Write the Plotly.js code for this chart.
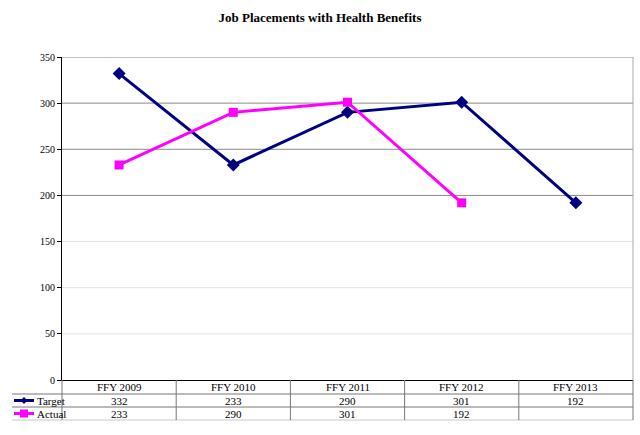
<!DOCTYPE html>
<html>
<head>
<meta charset="utf-8">
<script src="https://cdn.plot.ly/plotly-3.0.1.min.js"></script>
<style>
  body { margin: 0; background: #fff; }
  #chart { width: 640px; height: 435px; }
</style>
</head>
<body>
<div id="chart"></div>
<script>
// Data
const years = ["FFY 2009", "FFY 2010", "FFY 2011", "FFY 2012", "FFY 2013"];
const target = [332, 233, 290, 301, 192];
const actual = [233, 290, 301, 192, null];
const yTicks = [0, 50, 100, 150, 200, 250, 300, 350];

// plot area in pixels (used to place the data table below the axis)
const W = 640, H = 435;
const L = 62, R = 633, T = 57, B = 380;
const px = x => (x - L) / (R - L);
const py = y => (B - y) / (B - T);

const navy = '#000080';
const pink = '#FF00FF';
const serif = 'Liberation Serif';

function createChart() {
    const xs = years.map((_, i) => i);

    const traceTarget = {
        x: xs,
        y: target,
        name: 'Target',
        type: 'scatter',
        mode: 'lines+markers',
        line: { color: navy, width: 3 },
        marker: { symbol: 'diamond', size: 10, color: navy },
        cliponaxis: false
    };

    const traceActual = {
        x: xs,
        y: actual,
        name: 'Actual',
        type: 'scatter',
        mode: 'lines+markers',
        line: { color: pink, width: 3 },
        marker: { symbol: 'square', size: 9, color: pink },
        cliponaxis: false
    };

    const shapes = [];
    const annotations = [];

    // gridlines: upper ones darker, lower ones light
    yTicks.slice(1).forEach(v => {
        shapes.push({
            type: 'line', xref: 'paper', yref: 'y', x0: 0, x1: 1, y0: v, y1: v,
            line: { color: v >= 200 ? '#8a8a8a' : '#e2e2e2', width: 1 },
            layer: 'below'
        });
    });

    // right border of plot area
    shapes.push({ type: 'line', xref: 'paper', yref: 'paper', x0: 1, x1: 1, y0: 0, y1: 1,
        line: { color: '#aaaaaa', width: 1 } });

    // data table rows
    const rowY = [380, 394, 407, 420];
    const rowMid = [387, 400.5, 413.5];
    for (let r = 1; r < rowY.length; r++) {
        shapes.push({ type: 'line', xref: 'paper', yref: 'paper',
            x0: px(12), x1: 1, y0: py(rowY[r]), y1: py(rowY[r]),
            line: { color: r === 3 ? '#c8c8c8' : '#777777', width: 1 } });
    }
    // vertical separators
    for (let c = 0; c <= years.length; c++) {
        const xv = L + c * (R - L) / years.length;
        shapes.push({ type: 'line', xref: 'paper', yref: 'paper',
            x0: px(xv), x1: px(xv), y0: py(380), y1: py(420),
            line: { color: '#777777', width: 1 } });
    }

    const cellFont = { family: serif, size: 11, color: '#000' };
    years.forEach((yr, i) => {
        annotations.push({ x: i, y: py(rowMid[0]), xref: 'x', yref: 'paper', text: yr,
            showarrow: false, font: cellFont, yanchor: 'middle' });
        annotations.push({ x: i, y: py(rowMid[1]), xref: 'x', yref: 'paper',
            text: target[i] == null ? '' : String(target[i]),
            showarrow: false, font: cellFont, yanchor: 'middle' });
        annotations.push({ x: i, y: py(rowMid[2]), xref: 'x', yref: 'paper',
            text: actual[i] == null ? '' : String(actual[i]),
            showarrow: false, font: cellFont, yanchor: 'middle' });
    });

    // legend keys in the table
    const keys = [
        { name: 'Target', color: navy, row: 1, marker: 'diamond' },
        { name: 'Actual', color: pink, row: 2, marker: 'square' }
    ];
    keys.forEach(k => {
        const yk = py(rowMid[k.row]);
        shapes.push({ type: 'line', xref: 'paper', yref: 'paper',
            x0: px(14), x1: px(34), y0: yk, y1: yk,
            line: { color: k.color, width: 3 } });
        const cx = 24, cy = rowMid[k.row];
        if (k.marker === 'diamond') {
            shapes.push({ type: 'path', xref: 'paper', yref: 'paper',
                path: `M ${px(cx - 3.5)},${yk} L ${px(cx)},${py(cy - 3.5)} L ${px(cx + 3.5)},${yk} L ${px(cx)},${py(cy + 3.5)} Z`,
                fillcolor: k.color, line: { color: k.color, width: 0 } });
        } else {
            shapes.push({ type: 'rect', xref: 'paper', yref: 'paper',
                x0: px(cx - 4), x1: px(cx + 4), y0: py(cy + 4), y1: py(cy - 4),
                fillcolor: k.color, line: { color: k.color, width: 0 } });
        }
        annotations.push({ x: px(35), y: yk, xref: 'paper', yref: 'paper', text: k.name,
            showarrow: false, xanchor: 'left', yanchor: 'middle', font: cellFont });
    });

    const layout = {
        width: W,
        height: H,
        font: { family: serif, color: '#000' },
        title: {
            text: '<b>Job Placements with Health Benefits</b>',
            font: { family: serif, size: 13, color: '#000' },
            x: 0.5, xanchor: 'center', y: 1 - 17 / H, yanchor: 'middle'
        },
        paper_bgcolor: '#fff',
        plot_bgcolor: '#fff',
        showlegend: false,
        margin: { l: L, r: W - R, t: T, b: H - B },
        xaxis: {
            range: [-0.5, years.length - 0.5],
            showticklabels: false,
            showgrid: false,
            zeroline: false,
            showline: true,
            linecolor: '#000',
            linewidth: 1,
            ticks: '',
            fixedrange: true
        },
        yaxis: {
            range: [0, 350],
            tickvals: yTicks,
            showgrid: false,
            zeroline: false,
            showline: true,
            linecolor: '#000',
            linewidth: 1,
            ticks: 'outside',
            ticklen: 4,
            tickcolor: '#000',
            tickfont: { family: serif, size: 10, color: '#000' },
            fixedrange: true
        },
        shapes: shapes,
        annotations: annotations
    };

    Plotly.newPlot('chart', [traceTarget, traceActual], layout, { staticPlot: true });
}

window.onload = createChart;
</script>
</body>
</html>
